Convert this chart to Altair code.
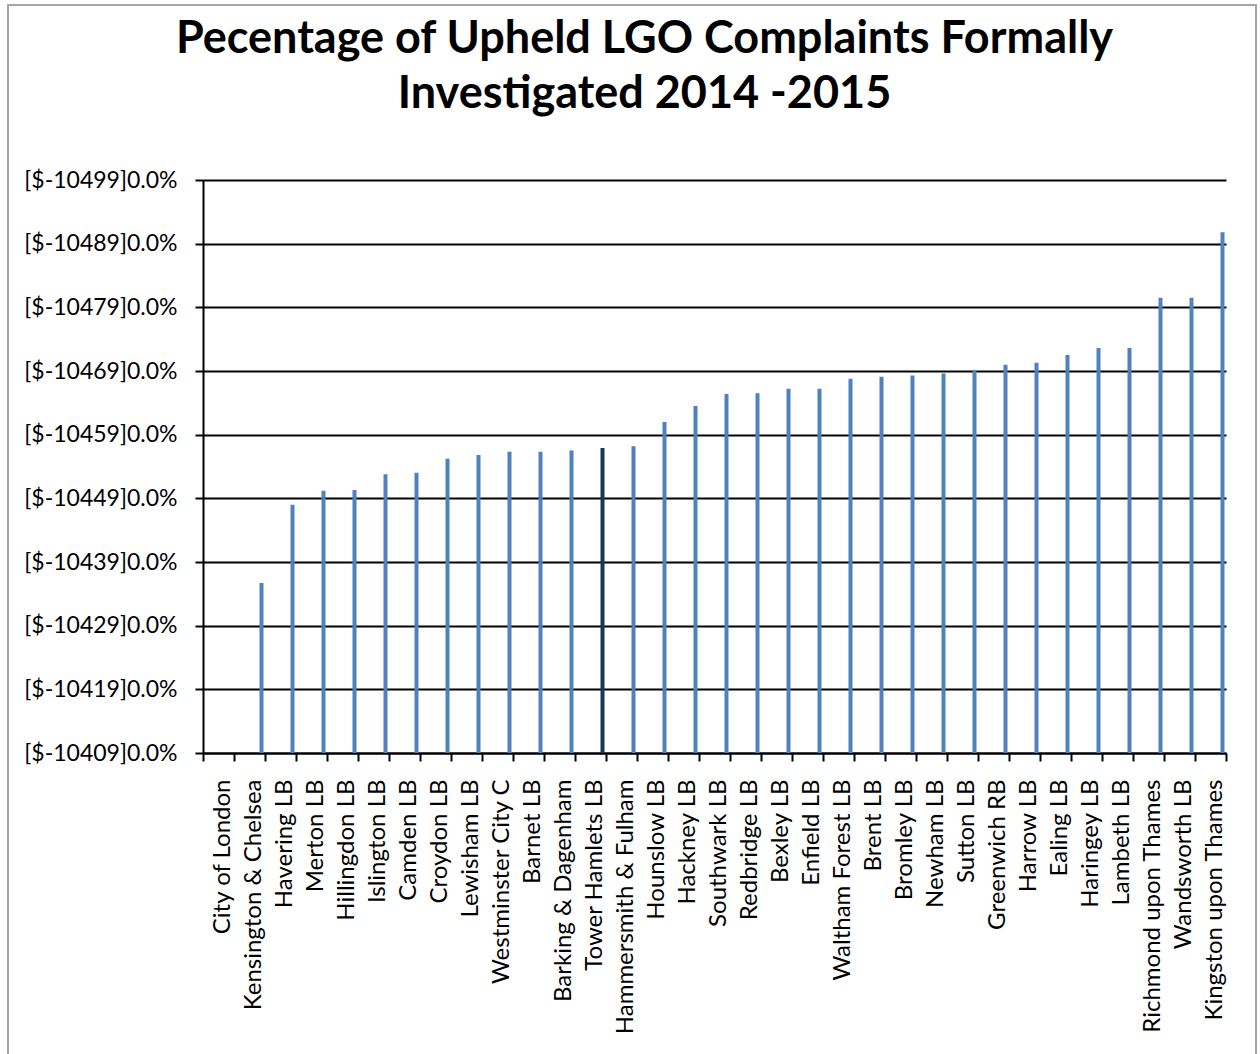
import altair as alt
import pandas as pd

# London boroughs, ordered as on the axis
boroughs = [
    "City of London", "Kensington & Chelsea", "Havering LB", "Merton LB",
    "Hillingdon LB", "Islington LB", "Camden LB", "Croydon LB", "Lewisham LB",
    "Westminster City C", "Barnet LB", "Barking & Dagenham", "Tower Hamlets LB",
    "Hammersmith & Fulham", "Hounslow LB", "Hackney LB", "Southwark LB",
    "Redbridge LB", "Bexley LB", "Enfield LB", "Waltham Forest LB", "Brent LB",
    "Bromley LB", "Newham LB", "Sutton LB", "Greenwich RB", "Harrow LB",
    "Ealing LB", "Haringey LB", "Lambeth LB", "Richmond upon Thames",
    "Wandsworth LB", "Kingston upon Thames",
]

# Percentage of formally investigated complaints that were upheld
upheld_pct = [
    0.0, 26.7, 39.0, 41.2,
    41.3, 43.8, 44.0, 46.2, 46.8,
    47.3, 47.3, 47.5, 47.9,
    48.2, 52.0, 54.5, 56.4,
    56.5, 57.2, 57.2, 58.8, 59.1,
    59.3, 59.6, 60.1, 61.0, 61.3,
    62.5, 63.6, 63.6, 71.5,
    71.5, 81.8,
]

highlight = "Tower Hamlets LB"

df = pd.DataFrame({"borough": boroughs, "pct": upheld_pct})
df["highlight"] = df["borough"] == highlight

W, H = 1023, 573
FONT = "Lato"

x_axis = alt.Axis(
    title=None,
    labelAngle=-90,
    labelFont=FONT,
    labelFontSize=24,
    labelColor="black",
    labelPadding=18,
    labelOffset=4,
    labelLimit=0,
    domainColor="black",
    domainWidth=2,
    tickColor="black",
    tickWidth=2,
    tickSize=8,
    tickBand="extent",
    grid=False,
)

y_axis = alt.Axis(
    title=None,
    values=list(range(0, 100, 10)),
    labelExpr="'[$-' + (10409 + datum.value) + ']0.0%'",
    labelFont=FONT,
    labelFontSize=23,
    labelColor="black",
    labelPadding=18,
    labelLimit=0,
    domainColor="black",
    domainWidth=2,
    tickColor="black",
    tickWidth=2,
    tickSize=8,
    grid=True,
    gridColor="black",
    gridWidth=2,
)

bars = alt.Chart(df).mark_bar(size=4, xOffset=12).encode(
    x=alt.X("borough:N", sort=boroughs, axis=x_axis,
            scale=alt.Scale(paddingInner=0, paddingOuter=0)),
    y=alt.Y("pct:Q", axis=y_axis, scale=alt.Scale(domain=[0, 90], nice=False)),
    color=alt.Color(
        "highlight:N",
        scale=alt.Scale(domain=[False, True], range=["#4F81BD", "#1B355B"]),
        legend=None,
    ),
)

# Thin grey frame around the whole chart
frame = alt.Chart(alt.Data(values=[{}])).mark_rect(
    fill=None, stroke="#A6A6A6", strokeWidth=2
).encode(
    x=alt.value(-195), x2=alt.value(W + 30),
    y=alt.value(-175), y2=alt.value(H + 330),
)

chart = alt.layer(frame, bars).properties(
    width=W,
    height=H,
    autosize="none",
    padding={"left": 203, "top": 180, "right": 34, "bottom": 301},
    title=alt.TitleParams(
        text=["Pecentage of Upheld LGO Complaints Formally",
              "Investigated 2014 -2015"],
        font=FONT,
        fontSize=45,
        fontWeight="bold",
        color="black",
        anchor="middle",
        frame="group",
        dx=-70,
        lineHeight=55,
        offset=0,
        dy=113,
    ),
).configure_view(stroke=None)

chart.save("out.html", embed_options={"renderer": "svg", "actions": False})
